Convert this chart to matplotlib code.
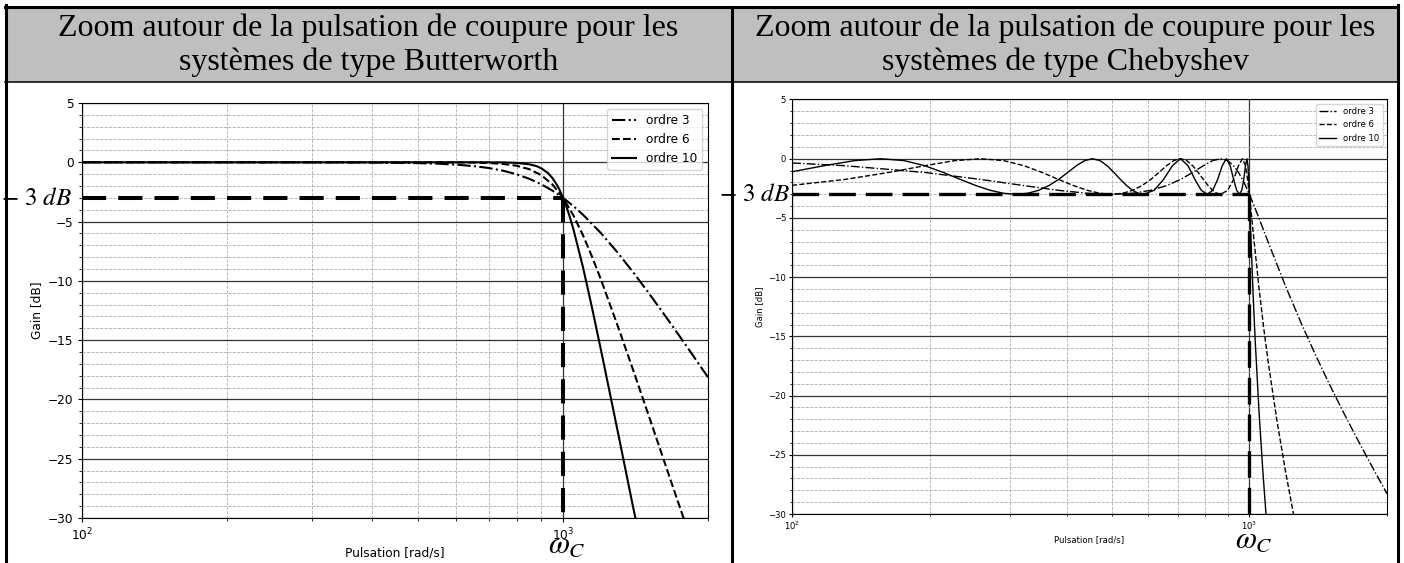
import matplotlib
matplotlib.use("Agg")
import matplotlib.pyplot as plt
from matplotlib.ticker import MultipleLocator, LogLocator, NullFormatter
from matplotlib.lines import Line2D
from matplotlib.patches import Rectangle

# ---------------- data ----------------
headers = ["Zoom autour de la pulsation de coupure pour les\nsystèmes de type Butterworth",
           "Zoom autour de la pulsation de coupure pour les\nsystèmes de type Chebyshev"]
series_labels = ["ordre 3", "ordre 6", "ordre 10"]
x_label = "Pulsation [rad/s]"
y_label = "Gain [dB]"
cutoff_w = 1000          # rad/s
cutoff_db = -3           # dB
x_limits = (100, 2000)
y_limits = (-30, 5)
att_text = r"$-\ 3\ dB$"
wc_text = r"$\omega_C$"

# Butterworth
bw3_w = [100, 200, 300, 400, 500, 550, 600, 650, 700, 750, 800, 850, 900, 950, 1000,
         1050, 1100, 1200, 1300, 1400, 1500, 1600, 1700, 1800, 1900, 2000]
bw3_g = [0, 0, 0, -0.02, -0.07, -0.12, -0.2, -0.32, -0.48, -0.71, -1.01, -1.39, -1.85, -2.39, -3.01,
         -3.69, -4.43, -6.0, -7.65, -9.31, -10.93, -12.5, -14.0, -15.44, -16.82, -18.13]
bw6_w = [100, 300, 500, 600, 650, 700, 750, 800, 850, 900, 950, 1000, 1050, 1100, 1150,
         1200, 1300, 1400, 1500, 1600, 1700, 1800]
bw6_g = [0, 0, 0, -0.01, -0.02, -0.06, -0.14, -0.29, -0.58, -1.08, -1.87, -3.01, -4.47, -6.17, -8.03,
         -9.96, -13.86, -17.6, -21.16, -24.51, -27.66, -30.6]
bw10_w = [100, 500, 700, 750, 800, 850, 880, 900, 930, 950, 970, 980, 1000, 1020, 1030,
          1050, 1100, 1150, 1200, 1300, 1400, 1420]
bw10_g = [0, 0, 0, -0.01, -0.05, -0.17, -0.32, -0.5, -0.91, -1.33, -1.89, -2.22, -3.01, -3.96, -4.48,
          -5.63, -8.88, -12.4, -15.95, -22.8, -29.23, -30.4]

# Chebyshev
ch3_w = [100, 130.5, 195.1, 258.8, 321.4, 382.7, 442.3, 500, 555.6, 608.8, 659.3, 707.1,
         751.8, 793.4, 831.5, 866, 896.9, 923.9, 946.9, 965.9, 980.8, 991.4, 997.9, 1000,
         1020, 1050, 1100, 1200, 1300, 1400, 1500, 1600, 1700, 1800, 1900, 2000]
ch3_g = [-0.36, -0.59, -1.16, -1.75, -2.27, -2.67, -2.92, -3.0, -2.92, -2.67, -2.27, -1.75,
         -1.16, -0.59, -0.16, 0, -0.16, -0.59, -1.16, -1.75, -2.27, -2.67, -2.92, -3.0,
         -3.8, -5.03, -7.06, -10.76, -13.94, -16.69, -19.12, -21.29, -23.26, -25.06, -26.73, -28.29]
ch6_w = [100, 130.5, 162.9, 195.1, 227.1, 258.8, 290.3, 321.4, 352.3, 382.7, 412.7, 442.3,
         471.4, 500, 528.1, 555.6, 582.5, 608.8, 634.4, 659.3, 683.5, 707.1, 729.9, 751.8,
         773, 793.4, 812.8, 831.5, 849.2, 866, 896.9, 923.9, 946.9, 965.9, 980.8, 991.4,
         997.9, 1000, 1010, 1020, 1050, 1075, 1100, 1150, 1200, 1250]
ch6_g = [-2.25, -1.75, -1.16, -0.59, -0.16, 0, -0.16, -0.59, -1.16, -1.75, -2.27, -2.67,
         -2.92, -3.0, -2.92, -2.67, -2.27, -1.75, -1.16, -0.59, -0.16, 0, -0.16, -0.59,
         -1.16, -1.75, -2.27, -2.67, -2.92, -3.0, -2.67, -1.75, -0.59, 0, -0.59, -1.75,
         -2.67, -3.0, -4.62, -6.28, -10.93, -14.27, -17.2, -22.2, -26.41, -30.09]
ch10_w = [100, 117.5, 137, 156.4, 175.8, 195.1, 214.3, 233.4, 252.5, 271.4,
          290.3, 309, 327.6, 346.1, 364.5, 382.7, 400.7, 418.7, 436.4, 454,
          471.4, 488.6, 505.7, 522.5, 539.2, 555.6, 571.8, 587.8,
          619.1, 649.4, 678.8, 707.1, 734.3, 760.4, 785.3, 809,
          831.5, 852.6, 872.5, 891, 908.1, 923.9, 938.2, 951.1,
          962.5, 972.4, 980.8, 987.7, 993.1, 996.9, 999.2, 1000,
          1005, 1010, 1020, 1030, 1050, 1070, 1090]
ch10_g = [-1.10, -0.59, -0.16, 0, -0.16, -0.59, -1.16, -1.75, -2.27, -2.67,
          -2.92, -3.0, -2.92, -2.67, -2.27, -1.75, -1.16, -0.59, -0.16, 0,
          -0.16, -0.59, -1.16, -1.75, -2.27, -2.67, -2.92, -3.0,
          -2.67, -1.75, -0.59, 0, -0.59, -1.75, -2.67, -3.0,
          -2.67, -1.75, -0.59, 0, -0.59, -1.75, -2.67, -3.0,
          -2.67, -1.75, -0.59, 0, -0.59, -1.75, -2.67, -3.0,
          -5.27, -7.57, -11.76, -15.37, -21.36, -26.29, -30.54]

# ---------------- figure ----------------
W, H = 1404, 563
plt.rcParams['mathtext.fontset'] = 'stix'
fig = plt.figure(figsize=(W / 100, H / 100), dpi=100)
fig.patch.set_facecolor('white')


def fx(px):
    return px / W


def fy(py):
    return 1 - py / H


# table frame
fig.add_artist(Rectangle((fx(5), fy(81.5)), fx(1398) - fx(5), fy(6.5) - fy(81.5),
                         transform=fig.transFigure, facecolor='#bfbfbf', edgecolor='none', zorder=0))
frame_lines = [((5, 1398), (6.5, 6.5), 2.2),
               ((5.5, 5.5), (5, 563), 2.2),
               ((1397.5, 1397.5), (5, 563), 2.2),
               ((731.5, 731.5), (6.5, 563), 2.2),
               ((5, 1398), (81.5, 81.5), 1.1)]
for xs, ys, lw in frame_lines:
    fig.add_artist(Line2D([fx(x) for x in xs], [fy(y) for y in ys], transform=fig.transFigure,
                          color='black', lw=lw, zorder=3, solid_capstyle='projecting'))

for cx, txt in zip((368.5, 1065), headers):
    fig.text(fx(cx), fy(45), txt, ha='center', va='center', fontsize=23,
             family='Liberation Serif', color='black')

styles = ['-.', '--', '-']


def draw_panel(rect, curves, fs, lw, tlen, tpad, cut_lw, dash, att_off, wc_off, lpad):
    ax = fig.add_axes(rect)
    for (w, g), lab, ls in zip(curves, series_labels, styles):
        ax.plot(w, g, color='black', ls=ls, lw=lw, label=lab)
    ax.set_xscale('log')
    ax.set_xlim(*x_limits)
    ax.set_ylim(*y_limits)
    ax.yaxis.set_major_locator(MultipleLocator(5))
    ax.yaxis.set_minor_locator(MultipleLocator(1))
    ax.xaxis.set_minor_locator(LogLocator(base=10, subs=range(2, 10)))
    ax.xaxis.set_minor_formatter(NullFormatter())
    ax.grid(True, which='major', color='0.2', ls='-', lw=0.9)
    ax.grid(True, which='minor', color='0.68', ls='--', lw=0.6)
    ax.set_axisbelow(True)
    ax.tick_params(which='major', labelsize=fs, length=tlen, pad=tpad)
    ax.tick_params(which='minor', length=tlen * 0.6)
    ax.set_xlabel(x_label, fontsize=fs, labelpad=lpad)
    ax.set_ylabel(y_label, fontsize=fs, labelpad=lpad + 1)
    # -3 dB / cutoff markers
    ax.plot([x_limits[0], cutoff_w], [cutoff_db, cutoff_db], color='black', lw=cut_lw,
            dashes=dash, zorder=3, dash_capstyle='butt')
    ax.plot([cutoff_w, cutoff_w], [cutoff_db, y_limits[0]], color='black', lw=cut_lw,
            dashes=dash, zorder=3, dash_capstyle='butt')
    ax.legend(loc='upper right', fontsize=fs)
    ax.annotate(att_text, xy=(0, cutoff_db), xycoords=ax.get_yaxis_transform(),
                xytext=(-att_off, 0), textcoords='offset pixels', ha='right', va='center',
                fontsize=18, annotation_clip=False)
    ax.annotate(wc_text, xy=(cutoff_w, 0), xycoords=ax.get_xaxis_transform(),
                xytext=(4, -wc_off), textcoords='offset pixels', ha='center', va='top',
                fontsize=22, annotation_clip=False)
    return ax


draw_panel([fx(82), fy(518), (708 - 82) / W, (518 - 103) / H],
           [(bw3_w, bw3_g), (bw6_w, bw6_g), (bw10_w, bw10_g)],
           fs=8.7, lw=1.5, tlen=3.2, tpad=3.0, cut_lw=2.9, dash=(6, 3),
           att_off=10, wc_off=12, lpad=2.5)
draw_panel([fx(792), fy(514), (1387 - 792) / W, (514 - 99.5) / H],
           [(ch3_w, ch3_g), (ch6_w, ch6_g), (ch10_w, ch10_g)],
           fs=6.1, lw=1.0, tlen=2.2, tpad=2.0, cut_lw=2.4, dash=(8, 3),
           att_off=2, wc_off=11, lpad=2)

fig.savefig('out.png', dpi=100)
